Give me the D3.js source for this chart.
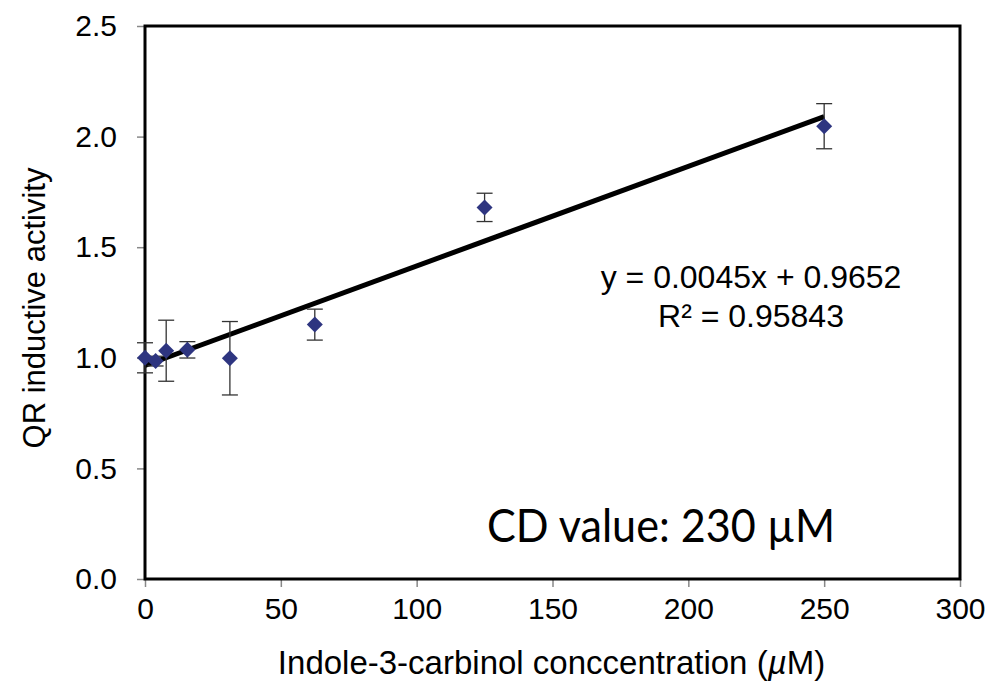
<!DOCTYPE html>
<html lang="en">
<head>
<meta charset="UTF-8">
<title>QR inductive activity</title>
<script src="https://d3js.org/d3.v7.min.js"></script>
<style>
  body { margin: 0; background: white; }
  svg { display: block; font-family: "Liberation Sans", Arial, sans-serif; }
  .tick text { font-size: 30px; fill: #000; }
  .axis-label { font-size: 31px; }
</style>
</head>
<body>
<svg width="992" height="687"></svg>
<script>
const conc = [0, 3.9, 7.8, 15.6, 31.25, 62.5, 125, 250];
const activity = [1.0, 0.985, 1.032, 1.036, 0.998, 1.15, 1.68, 2.047];
const errors = [0.068, 0.022, 0.138, 0.037, 0.166, 0.07, 0.064, 0.102];
const xTicks = [0, 50, 100, 150, 200, 250, 300];
const yTicks = [0, 0.5, 1, 1.5, 2, 2.5];
const slope = 0.0045, intercept = 0.9652;

const svg = d3.select("svg");
const margin = { top: 26, right: 32, bottom: 108, left: 145 };
const width = 992 - margin.left - margin.right;
const height = 687 - margin.top - margin.bottom;
const g = svg.append("g").attr("transform", `translate(${margin.left},${margin.top})`);

const x = d3.scaleLinear().domain([0, 300]).range([0, width]);
const y = d3.scaleLinear().domain([0, 2.5]).range([height, 0]);

// axes
const xAxis = g.append("g")
    .attr("transform", `translate(0,${height})`)
    .call(d3.axisBottom(x).tickValues(xTicks).tickSize(8).tickPadding(11).tickFormat(d3.format("d")));
const yAxis = g.append("g")
    .call(d3.axisLeft(y).tickValues(yTicks).tickSize(8).tickPadding(20).tickFormat(d3.format(".1f")));
[xAxis, yAxis].forEach(a => {
  a.select(".domain").remove();
  a.selectAll(".tick line").attr("stroke", "#888").attr("stroke-width", 1.5);
});

// frame
g.append("rect")
    .attr("width", width).attr("height", height)
    .attr("fill", "none").attr("stroke", "#000").attr("stroke-width", 3);

// trendline
g.append("line")
    .attr("x1", x(0)).attr("y1", y(intercept))
    .attr("x2", x(250)).attr("y2", y(slope * 250 + intercept))
    .attr("stroke", "#000").attr("stroke-width", 5);

// error bars
const pts = conc.map((c, i) => ({ c, v: activity[i], e: errors[i] }));
const eb = g.append("g").attr("stroke", "#333").attr("stroke-width", 1.3);
pts.forEach(d => {
  eb.append("line").attr("x1", x(d.c)).attr("x2", x(d.c)).attr("y1", y(d.v - d.e)).attr("y2", y(d.v + d.e));
  [d.v - d.e, d.v + d.e].forEach(v => {
    eb.append("line").attr("x1", x(d.c) - 8).attr("x2", x(d.c) + 8).attr("y1", y(v)).attr("y2", y(v));
  });
});

// markers
g.selectAll("path.pt").data(pts).enter().append("path")
    .attr("class", "pt")
    .attr("d", "M0,-8L8,0L0,8L-8,0Z")
    .attr("transform", d => `translate(${x(d.c)},${y(d.v)})`)
    .attr("fill", "#2E3580");

// equation
g.append("text").attr("x", 606).attr("y", 262).attr("text-anchor", "middle")
    .attr("font-size", 32).text("y = 0.0045x + 0.9652");
g.append("text").attr("x", 606).attr("y", 301).attr("text-anchor", "middle")
    .attr("font-size", 32).text("R² = 0.95843");
g.append("text").attr("x", 342).attr("y", 516)
    .attr("font-family", "Lato, 'Open Sans', sans-serif").attr("font-size", 47)
    .attr("textLength", 348).attr("lengthAdjust", "spacingAndGlyphs")
    .text("CD value: 230 µM");

// axis titles
const xt = svg.append("text").attr("class", "axis-label")
    .attr("x", margin.left + width / 2 - 1).attr("y", 674).attr("text-anchor", "middle")
    .style("font-size", "33px");
xt.append("tspan").text("Indole-3-carbinol conccentration (");
xt.append("tspan").attr("font-style", "italic").text("µ");
xt.append("tspan").text("M)");

svg.append("text").attr("class", "axis-label")
    .attr("transform", "rotate(-90)")
    .attr("x", -308).attr("y", 45)
    .attr("text-anchor", "middle").text("QR inductive activity");
</script>
</body>
</html>
